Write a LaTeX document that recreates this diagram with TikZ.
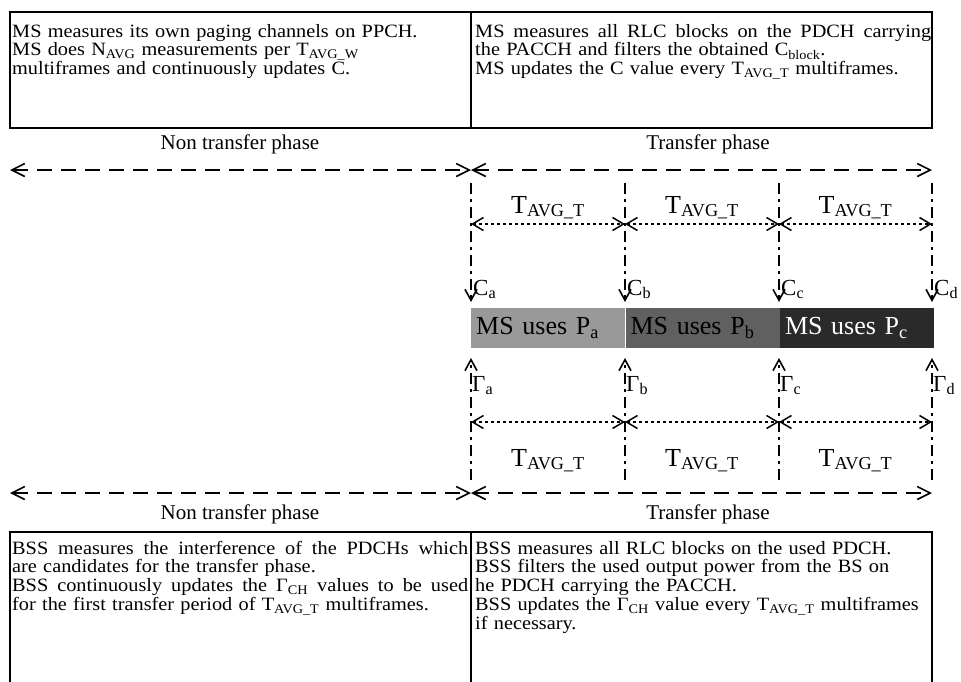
\documentclass[tikz,border=0pt]{standalone}
\usepackage{fontspec}
\setmainfont{Liberation Serif}
\newfontfamily\boxfont[FakeStretch=1.08]{Liberation Serif}
\usetikzlibrary{arrows.meta,positioning}

\definecolor{usea}{HTML}{999999}
\definecolor{useb}{HTML}{606060}
\definecolor{usec}{HTML}{2A2A2A}

\newcommand{\tavg}{T\textsubscript{AVG\_T}}
\newcommand{\fullline}[1]{\makebox[\hsize][s]{\spaceskip=.3333em plus 1em\relax #1}}

\begin{document}
\begin{tikzpicture}[
			x = 1pt,
			y = -1pt,
			every node/.style = {inner sep = 0pt},
			txt/.style = {font = {\boxfont\fontsize{18.8}{18.9}\selectfont\lineskiplimit=-20pt}},
			info/.style = {txt, anchor = base west, text width = 456pt, align = left},
			phasetxt/.style = {font = \fontsize{21}{23}\selectfont, anchor = base},
			big/.style = {font = \fontsize{26}{28}\selectfont},
			chan/.style = {font = \fontsize{23}{25}\selectfont, anchor = base west},
			bar/.style = {big, minimum width = 154pt, minimum height = 40pt, text width = 144pt, align = left, inner xsep = 5pt},
			frame/.style = {line width = 1.6pt},
			phase/.style = {line width = 1.6pt, dash pattern = on 15pt off 9pt, >={Straight Barb[length=13pt,width=13pt]}, <->},
			period/.style = {line width = 1.5pt, dash pattern = on 2.5pt off 3.5pt, >={Straight Barb[length=11pt,width=13pt]}, <->},
			tick/.style = {line width = 1.6pt, dash pattern = on 11pt off 5pt on 3pt off 5pt, >={Straight Barb[length=11pt,width=12pt]}, ->}
		]

		\useasboundingbox (0,0) rectangle (961,681);

		\coordinate (nw) at (10,170);
		\coordinate (nmid) at (471,170);
		\coordinate (ne) at (932,170);
		\coordinate (sw) at (10,493);
		\coordinate (smid) at (471,493);
		\coordinate (se) at (932,493);

		\draw[frame] (10,12) rectangle (932,128);
		\draw[frame] (471,12) -- (471,128);
		\draw[frame] (10,690) |- (932,532) -- (932,690);
		\draw[frame] (471,532) -- (471,690);

		\node[info] (msidle) at (12,37) {MS measures its own paging channels on PPCH.\\
			MS does N\textsubscript{AVG} measurements per T\textsubscript{AVG\_W}\\
			multiframes and continuously updates C.};
		\node[info] (mstransfer) at (475,37) {\fullline{MS measures all RLC blocks on the PDCH carrying}\\
			the PACCH and filters the obtained C\textsubscript{block}.\\
			MS updates the C value every \tavg{} multiframes.};
		\node[info] (bssidle) at (12,554) {\fullline{BSS measures the interference of the PDCHs which}\\
			are candidates for the transfer phase.\\
			\fullline{BSS continuously updates the Γ\textsubscript{CH} values to be used}\\
			for the first transfer period of \tavg{} multiframes.};
		\node[info] (bsstransfer) at (475,554) {BSS measures all RLC blocks on the used PDCH.\\
			BSS filters the used output power from the BS on\\
			he PDCH carrying the PACCH.\\
			BSS updates the Γ\textsubscript{CH} value every \tavg{} multiframes\\
			if necessary.};

		\draw[phase] (nw) -- (nmid);
		\draw[phase] (nmid) -- (ne);
		\draw[phase] (sw) -- (smid);
		\draw[phase] (smid) -- (se);

		\node[phasetxt] (nontop) at (240,149) {Non transfer phase};
		\node[phasetxt] (trtop) at (708,149) {Transfer phase};
		\node[phasetxt] (nonbot) at (240,519) {Non transfer phase};
		\node[phasetxt] (trbot) at (708,519) {Transfer phase};

		\foreach \n/\x in {a/471,b/625,c/779,d/932}{
			\coordinate (top\n) at (\x,183);
			\coordinate (up\n) at (\x,224);
			\coordinate (c\n) at (\x,302);
			\coordinate (g\n) at (\x,358);
			\coordinate (low\n) at (\x,422);
			\coordinate (end\n) at (\x,480);
			\draw[tick] (top\n) -- (c\n);
			\draw[tick] (end\n) -- (g\n);
			\node[chan] (lc\n) at (\x+2,295) {C\textsubscript{\n}};
			\node[chan] (lg\n) at (\x+1,391) {Γ\textsubscript{\n}};
		}

		\foreach \p/\q in {a/b,b/c,c/d}{
			\draw[period] (up\p) -- node[big, anchor=base, yshift=11pt] (tu\p) {\tavg} (up\q);
			\draw[period] (low\p) -- node[big, anchor=base, yshift=-44pt] (tl\p) {\tavg} (low\q);
		}

		\node[bar, fill=usea, anchor=north west] (pa) at (471,308) {MS uses P\textsubscript{a}};
		\node[bar, fill=useb, right=0pt of pa] (pb) {MS uses P\textsubscript{b}};
		\node[bar, fill=usec, text=white, right=0pt of pb] (pc) {MS uses P\textsubscript{c}};

	\end{tikzpicture}
\end{document}
